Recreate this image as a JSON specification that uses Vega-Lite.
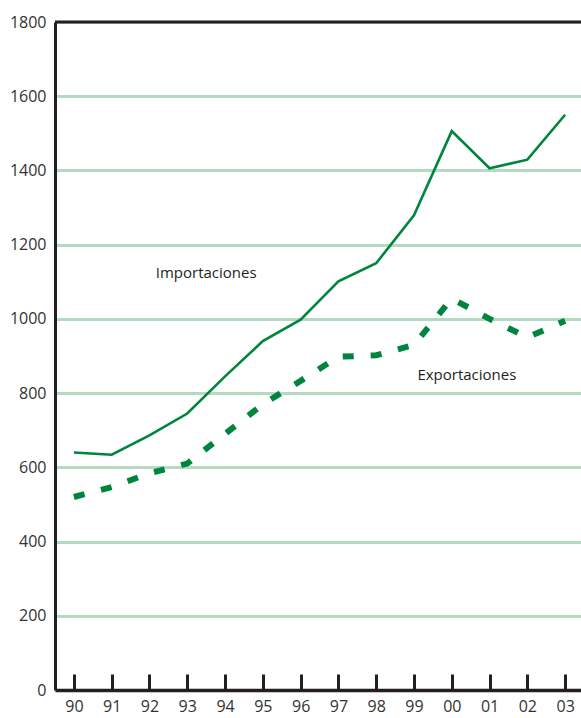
{
  "$schema": "https://vega.github.io/schema/vega-lite/v6.json",
  "width": 526,
  "height": 668,
  "autosize": {"type": "none"},
  "padding": {"left": 55, "top": 22, "right": 0, "bottom": 28},
  "background": "white",
  "config": {"view": {"stroke": null}},
  "datasets": {
    "series": [
      {"year": 1990, "serie": "Importaciones", "value": 640},
      {"year": 1991, "serie": "Importaciones", "value": 634},
      {"year": 1992, "serie": "Importaciones", "value": 686},
      {"year": 1993, "serie": "Importaciones", "value": 745},
      {"year": 1994, "serie": "Importaciones", "value": 845},
      {"year": 1995, "serie": "Importaciones", "value": 940},
      {"year": 1996, "serie": "Importaciones", "value": 998},
      {"year": 1997, "serie": "Importaciones", "value": 1101},
      {"year": 1998, "serie": "Importaciones", "value": 1150},
      {"year": 1999, "serie": "Importaciones", "value": 1279},
      {"year": 2000, "serie": "Importaciones", "value": 1506},
      {"year": 2001, "serie": "Importaciones", "value": 1406},
      {"year": 2002, "serie": "Importaciones", "value": 1429},
      {"year": 2003, "serie": "Importaciones", "value": 1550},
      {"year": 1990, "serie": "Exportaciones", "value": 520},
      {"year": 1991, "serie": "Exportaciones", "value": 547},
      {"year": 1992, "serie": "Exportaciones", "value": 584},
      {"year": 1993, "serie": "Exportaciones", "value": 610},
      {"year": 1994, "serie": "Exportaciones", "value": 690},
      {"year": 1995, "serie": "Exportaciones", "value": 770},
      {"year": 1996, "serie": "Exportaciones", "value": 833},
      {"year": 1997, "serie": "Exportaciones", "value": 898},
      {"year": 1998, "serie": "Exportaciones", "value": 902},
      {"year": 1999, "serie": "Exportaciones", "value": 930},
      {"year": 2000, "serie": "Exportaciones", "value": 1055},
      {"year": 2001, "serie": "Exportaciones", "value": 1000},
      {"year": 2002, "serie": "Exportaciones", "value": 950},
      {"year": 2003, "serie": "Exportaciones", "value": 995}
    ],
    "labels": [
      {"year": 1993.5, "value": 1125, "text": "Importaciones"},
      {"year": 2000.4, "value": 848, "text": "Exportaciones"}
    ]
  },
  "layer": [
    {
      "data": {"name": "series"},
      "transform": [{"filter": "datum.serie === 'Importaciones'"}],
      "mark": {"type": "line", "color": "#00853f", "strokeWidth": 2.6, "clip": false},
      "encoding": {
        "x": {
          "field": "year", "type": "quantitative",
          "scale": {"domain": [1989.5, 2003.42], "nice": false, "zero": false},
          "axis": {
            "title": null,
            "values": [1990, 1991, 1992, 1993, 1994, 1995, 1996, 1997, 1998, 1999, 2000, 2001, 2002, 2003],
            "labelExpr": "substring(toString(datum.value), 2)",
            "grid": false,
            "domainColor": "#231f20", "domainWidth": 3.5,
            "tickColor": "#231f20", "tickWidth": 3, "tickSize": -16,
            "labelFont": "Open Sans", "labelFontSize": 16, "labelColor": "#333333",
            "labelPadding": 24, "labelFlush": false, "labelOverlap": false
          }
        },
        "y": {
          "field": "value", "type": "quantitative",
          "scale": {"domain": [0, 1800], "nice": false},
          "axis": {
            "title": null,
            "values": [0, 200, 400, 600, 800, 1000, 1200, 1400, 1600, 1800],
            "format": "d",
            "grid": true, "gridColor": "#b5dac2", "gridWidth": 3,
            "ticks": false,
            "domainColor": "#231f20", "domainWidth": 3,
            "labelFont": "Open Sans", "labelFontSize": 16, "labelColor": "#333333",
            "labelPadding": 9, "labelFlush": false, "labelOverlap": false
          }
        }
      }
    },
    {
      "data": {"name": "series"},
      "transform": [{"filter": "datum.serie === 'Exportaciones'"}],
      "mark": {"type": "line", "color": "#00853f", "strokeWidth": 6, "strokeDash": [11, 17], "clip": false},
      "encoding": {
        "x": {"field": "year", "type": "quantitative"},
        "y": {"field": "value", "type": "quantitative"}
      }
    },
    {
      "data": {"values": [{"top": 1800}]},
      "mark": {"type": "rule", "color": "#231f20", "strokeWidth": 3},
      "encoding": {"y": {"field": "top", "type": "quantitative"}}
    },
    {
      "data": {"name": "labels"},
      "mark": {"type": "text", "font": "Open Sans", "fontSize": 15, "color": "#231f20", "align": "center", "baseline": "middle"},
      "encoding": {
        "x": {"field": "year", "type": "quantitative"},
        "y": {"field": "value", "type": "quantitative"},
        "text": {"field": "text"}
      }
    }
  ]
}
